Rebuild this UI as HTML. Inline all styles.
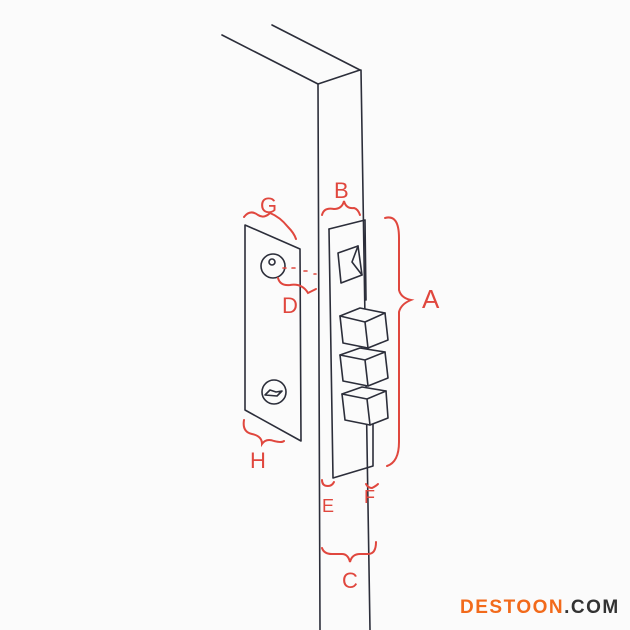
<!DOCTYPE html>
<html><head><style>
body{margin:0;background:#fbfbfb;}
svg{display:block}
</style></head><body>
<svg width="630" height="630" viewBox="0 0 630 630" xmlns="http://www.w3.org/2000/svg">
<rect width="630" height="630" fill="#fbfbfb"/>
<g fill="none" stroke="#2c2e3a" stroke-width="1.6" stroke-linejoin="round" stroke-linecap="round">
<!-- door -->
<line x1="222" y1="35" x2="318" y2="84"/>
<line x1="272" y1="25" x2="360" y2="70"/>
<line x1="318" y1="84" x2="360" y2="70"/>
<line x1="318" y1="84" x2="320" y2="630"/>
<line x1="361" y1="70" x2="370" y2="630"/>
<!-- faceplate -->
<path d="M329,229 L365,220 L366,300"/>
<path d="M329,229 L333,478 L373,466 L373,422"/>
<!-- latch -->
<path d="M338,253 L358,246 L362,275 L341,283 Z"/>
<path d="M358,246 L352,262 L362,275"/>
<!-- cubes -->
<g fill="#fbfbfb">
<path d="M340,316 L360,308 L385,313 L388,340 L368,348 L343,343 Z"/>
<path d="M340,355 L360,348 L385,352 L388,378 L368,386 L343,381 Z"/>
<path d="M342,394 L362,387 L386,391 L388,418 L370,425 L345,420 Z"/>
</g>
<path d="M340,316 L365,322 L368,348 M365,322 L385,313"/>
<path d="M340,355 L365,360 L368,386 M365,360 L385,352"/>
<path d="M342,394 L367,399 L370,425 M367,399 L386,391"/>
<!-- strike plate -->
<path d="M245,225 L300,249 L301,441 L245,410 Z"/>
<circle cx="273" cy="266" r="12"/>
<circle cx="272" cy="262" r="3"/>
<circle cx="274" cy="392" r="12"/>
<path d="M265,395 L270,390 L276,392 L282,391 L277,396 Z"/>
</g>
<g fill="none" stroke="#e0473e" stroke-width="2" stroke-linecap="round">
<path d="M244,217 q6,-8 14,-2 q6,4 12,-2 q10,4 18,14 q6,6 8,12"/>
<path d="M322,215 q2,-8 12,-6 q8,0 10,-8 q2,8 10,7 q4,1 6,7"/>
<path d="M385,218 q14,-4 14,20 l0,52 q2,8 12,10 q-10,4 -12,12 l0,130 q0,20 -12,24"/>
<path d="M278,278 q2,8 12,7 q12,-2 18,8 q4,-2 8,-4"/>
<path d="M244,420 q-2,12 8,14 q10,2 10,10 q4,-6 12,-3 q8,2 10,0"/>
<path d="M322,480 q0,6 6,6 q4,0 6,-4"/>
<path d="M366,484 q2,4 6,4 q4,-2 6,-4"/>
<path d="M322,548 q2,6 10,6 l10,0 q6,0 8,8 q2,-8 10,-8 l8,0 q8,0 8,-12"/>
<path d="M283,268 l3,0 M292,268 l3,0 M304,271 l3,0 M314,274 l2,0" stroke-width="1.6"/>
</g>
<g font-family="Liberation Sans, sans-serif" fill="#e0473e" font-size="22">
<text x="260" y="213">G</text>
<text x="334" y="198">B</text>
<text x="422" y="308" font-size="26">A</text>
<text x="282" y="313">D</text>
<text x="250" y="468">H</text>
<text x="322" y="512" font-size="18">E</text>
<text x="364" y="503" font-size="18">F</text>
<text x="342" y="588">C</text>
</g>
<text x="460" y="613" font-family="Liberation Sans, sans-serif" font-weight="bold" font-size="19" fill="#f26a1b" letter-spacing="1.5">DESTOON<tspan fill="#333">.COM</tspan></text>
</svg>
</body></html>
